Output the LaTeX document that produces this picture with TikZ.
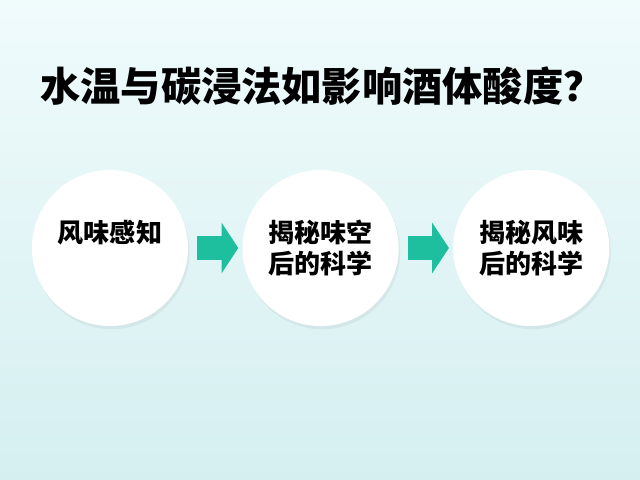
\documentclass[tikz,border=0pt]{standalone}
\usepackage{fontspec}
\newfontfamily\cjk{Noto Sans CJK SC}
\usetikzlibrary{positioning,shadows,arrows.meta}
\definecolor{flowteal}{HTML}{1DBF9F}
\definecolor{bgtop}{HTML}{F0FBFC}
\definecolor{bgbottom}{HTML}{D5EFF0}
\begin{document}
\begin{tikzpicture}[x=0.025cm, y=-0.025cm, node distance=1.35cm,
    bubble/.style = {fill=white, circle, minimum size=3.9cm, inner sep=0pt, align=center,
        font=\cjk\bfseries\fontsize{18.5}{22}\selectfont,
        drop shadow={opacity=0.10, shadow xshift=0.04cm, shadow yshift=-0.08cm}},
    flow/.style = {color=flowteal, line width=0.58cm, shorten <=0.22cm, shorten >=0.1cm,
        -{Triangle[length=0.42cm, width=1.25cm]}}]
    \shade[top color=bgtop, bottom color=bgbottom] (0,0) rectangle (640,480);
    \useasboundingbox (0,0) rectangle (640,480);
    % title
    \node[font=\cjk\bfseries\fontsize{28.6}{30}\selectfont] (head) at (322,86) {水温与碳浸法如影响酒体酸度？};
    % steps
    \node[bubble] (c1) at (110,248) {风味感知\\\phantom{风味感知}};
    \node[bubble] (c2) [right=of c1] {揭秘味空\\后的科学};
    \node[bubble] (c3) [right=of c2] {揭秘风味\\后的科学};
    \draw[flow] (c1.east) -- (c2.west);
    \draw[flow] (c2.east) -- (c3.west);
\end{tikzpicture}
\end{document}
